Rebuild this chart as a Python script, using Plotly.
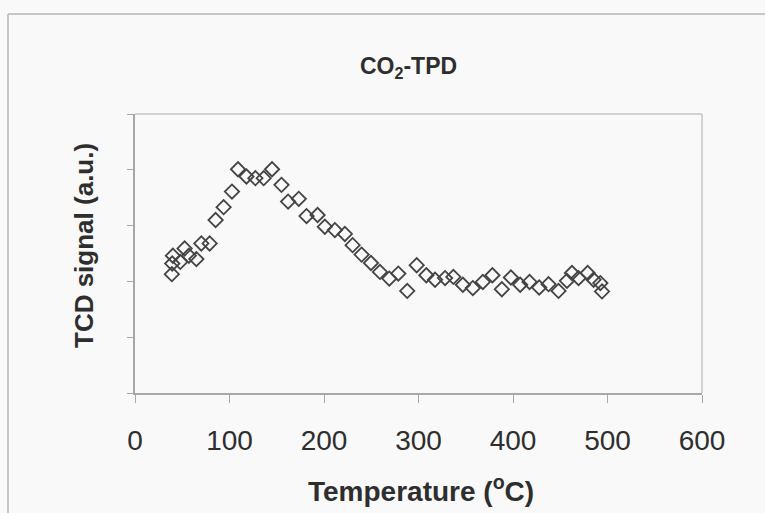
import plotly.graph_objects as go

# CO2-TPD desorption profile: temperature (deg C) vs TCD signal (a.u.)
temperature = [39, 39.4, 40.1, 47.9, 52.5, 57.0, 64.9, 70.2, 79.0, 85.3,
               93.8, 102.6, 109.0, 117.9, 127.4, 136.2, 145.0, 155.0, 162.0, 173.3,
               181.5, 193.2, 200.9, 211.5, 222.1, 230.3, 239.8, 249.7, 259.2, 269.1,
               278.6, 288.1, 298.1, 308.3, 317.5, 328.1, 336.9, 346.9, 357.5, 368.1,
               378.2, 388.2, 397.8, 407.6, 417.5, 427.7, 437.6, 448.2, 457.1, 462.4,
               469.4, 479.0, 485.3, 492.4, 494.2]
tcd_signal = [2.13, 2.32, 2.46, 2.35, 2.59, 2.46, 2.40, 2.68, 2.68, 3.10,
              3.33, 3.61, 4.01, 3.88, 3.85, 3.85, 4.01, 3.73, 3.43, 3.48,
              3.17, 3.19, 2.98, 2.92, 2.85, 2.65, 2.48, 2.33, 2.17, 2.05,
              2.14, 1.83, 2.29, 2.11, 2.03, 2.06, 2.08, 1.94, 1.88, 1.99,
              2.11, 1.86, 2.07, 1.94, 1.99, 1.89, 1.95, 1.83, 2.01, 2.15,
              2.06, 2.15, 2.03, 1.97, 1.82]

x_ticks = [0, 100, 200, 300, 400, 500, 600]

W, H = 765, 513
ML, MR, MT, MB = 135, 63, 114, 120
PW, PH = W - ML - MR, H - MT - MB


def px_x(px):
    return (px - ML) / PW


def px_y(py):
    return (H - MB - py) / PH


FONT = "Liberation Sans, Arial, sans-serif"
TXT = "#2e2e2e"

fig = go.Figure()
fig.add_trace(go.Scatter(
    x=temperature, y=tcd_signal, mode="markers",
    marker=dict(symbol="diamond-open", size=11,
                line=dict(color="#444444", width=1.8), color="#444444"),
    showlegend=False, cliponaxis=False,
))

fig.update_layout(
    width=W, height=H,
    margin=dict(l=ML, r=MR, t=MT, b=MB),
    paper_bgcolor="#f9f9f9", plot_bgcolor="#f9f9f9",
    font=dict(family=FONT, color=TXT),
    xaxis=dict(range=[0, 600], tickvals=x_ticks, ticks="outside", ticklen=8,
               tickcolor="#a8a8a8", showline=True, linecolor="#a8a8a8", linewidth=1.5,
               showgrid=False, zeroline=False, tickfont=dict(size=28, color=TXT),
               ticklabelstandoff=14),
    yaxis=dict(range=[0, 5], dtick=1, ticks="outside", ticklen=6,
               tickcolor="#a8a8a8", showline=True, linecolor="#a8a8a8", linewidth=1.5,
               showgrid=False, zeroline=False, showticklabels=False),
    shapes=[
        # top and right edges of the plot box
        dict(type="line", xref="paper", yref="paper", x0=0, x1=1, y0=1, y1=1,
             line=dict(color="#c4c4c4", width=1.5)),
        dict(type="line", xref="paper", yref="paper", x0=1, x1=1, y0=0, y1=1,
             line=dict(color="#c4c4c4", width=1.5)),
        # outer figure frame
        dict(type="line", xref="paper", yref="paper", x0=px_x(8), x1=px_x(8),
             y0=px_y(14), y1=px_y(H + 5), line=dict(color="#b4b4b4", width=1.5)),
        dict(type="line", xref="paper", yref="paper", x0=px_x(8), x1=px_x(W + 5),
             y0=px_y(14), y1=px_y(14), line=dict(color="#b4b4b4", width=1.5)),
    ],
    annotations=[
        dict(text="<b>CO<sub>2</sub>-TPD</b>", xref="paper", yref="paper",
             x=px_x(408), y=px_y(67), xanchor="center", yanchor="middle",
             showarrow=False, font=dict(size=23, color=TXT)),
        dict(text="<b>Temperature (<sup>o</sup>C)</b>", xref="paper", yref="paper",
             x=px_x(421), y=px_y(489), xanchor="center", yanchor="middle",
             showarrow=False, font=dict(size=28, color=TXT)),
        dict(text="<b>TCD signal (a.u.)</b>", xref="paper", yref="paper",
             x=px_x(84), y=px_y(246), xanchor="center", yanchor="middle",
             textangle=-90, showarrow=False, font=dict(size=26, color=TXT)),
    ],
)

fig.write_html("out.html")
